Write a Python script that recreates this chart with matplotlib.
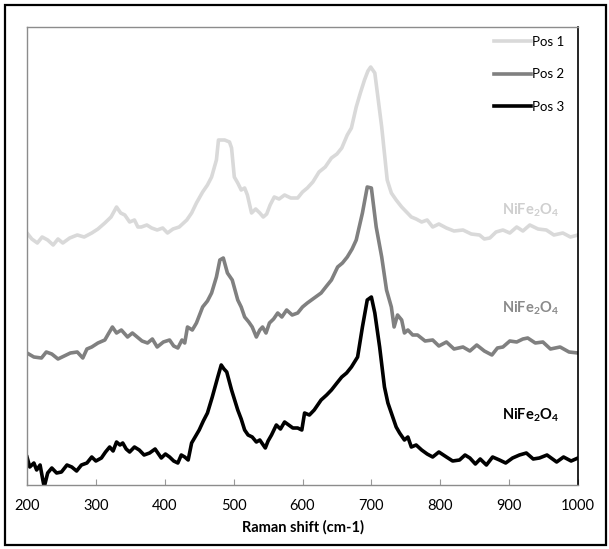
import matplotlib
matplotlib.use("Agg")
import matplotlib.pyplot as plt
from matplotlib.patches import Rectangle

plt.rcParams['font.family'] = ['Lato', 'DejaVu Sans']
plt.rcParams['mathtext.fontset'] = 'custom'
plt.rcParams['mathtext.rm'] = 'Lato'
plt.rcParams['mathtext.bf'] = 'Lato:bold'

# Raman spectra (intensity in arbitrary, stacked units)
pos1_x = [200, 207, 215, 222, 230, 238, 245, 252, 262, 273, 283, 294, 303, 313, 322,
          330, 336, 342, 349, 356, 361, 366, 374, 381, 389, 397, 404, 412, 421,
          432, 439, 446, 455, 462, 468, 475, 478, 487, 494, 497, 501, 506, 511, 516,
          520, 526, 532, 538, 543, 548, 553, 559, 566, 574, 583, 593, 600, 607, 615,
          624, 633, 642, 650, 657, 665, 671, 678, 684, 690, 695, 699, 705, 710, 715,
          723, 729, 736, 744, 751, 758, 765, 773, 781, 789, 798, 809, 820, 833, 845,
          857, 864, 872, 881, 891, 901, 911, 920, 930, 942, 954, 965, 978, 989, 1000]
pos1_y = [252, 246, 242, 248, 245, 240, 246, 242, 247, 250, 248, 252, 256, 262, 268,
          278, 272, 270, 263, 265, 258, 258, 260, 257, 255, 257, 252, 256, 258,
          265, 272, 282, 293, 300, 308, 325, 345, 345, 343, 337, 308, 302, 295, 297,
          290, 272, 276, 272, 268, 271, 280, 288, 286, 290, 287, 287, 293, 297, 303,
          313, 318, 327, 331, 337, 350, 357, 378, 392, 405, 414, 418, 412, 385, 358,
          305, 292, 285, 278, 273, 268, 266, 263, 265, 258, 261, 257, 254, 255, 251,
          250, 246, 247, 253, 255, 252, 258, 254, 260, 256, 255, 250, 252, 248, 250]

pos2_x = [200, 210, 221, 228, 236, 245, 254, 263, 273, 281, 287, 294, 303, 313, 318,
          324, 330, 337, 346, 353, 360, 367, 375, 382, 389, 398, 407, 413, 419, 425,
          429, 433, 440, 446, 455, 462, 468, 475, 480, 485, 491, 498, 506, 511, 516,
          522, 527, 533, 538, 542, 547, 552, 558, 564, 570, 577, 585, 593, 600, 607,
          617, 627, 635, 642, 651, 658, 665, 672, 678, 687, 694, 700, 707, 715, 722,
          729, 733, 738, 744, 748, 753, 760, 767, 778, 789, 798, 809, 820, 833, 843,
          853, 864, 875, 883, 891, 901, 911, 920, 927, 938, 949, 960, 974, 987, 1000]
pos2_y = [132, 128, 127, 133, 131, 126, 129, 132, 133, 127, 136, 138, 142, 145, 151,
          158, 152, 155, 148, 152, 148, 144, 142, 146, 138, 143, 145, 139, 137, 145,
          142, 158, 155, 162, 178, 184, 192, 208, 225, 227, 212, 205, 185, 178, 168,
          163, 158, 148, 155, 158, 152, 162, 166, 172, 168, 175, 170, 172, 178, 182,
          187, 192, 199, 205, 218, 222, 228, 236, 245, 272, 298, 297, 258, 228, 195,
          178, 158, 170, 165, 152, 155, 150, 150, 144, 145, 139, 143, 136, 138, 134,
          140, 134, 130, 137, 138, 144, 143, 146, 147, 142, 143, 136, 138, 133, 132]

pos3_x = [200, 204, 210, 214, 219, 223, 225, 230, 236, 243, 250, 258, 265, 272, 279,
          287, 294, 300, 308, 314, 320, 325, 330, 335, 339, 344, 349, 356, 363, 370,
          378, 386, 395, 401, 407, 413, 419, 424, 429, 434, 439, 450, 456, 462, 469,
          477, 482, 486, 490, 497, 506, 511, 516, 521, 527, 533, 538, 546, 550, 555,
          562, 568, 574, 580, 586, 593, 599, 603, 610, 617, 622, 627, 635, 642, 650,
          657, 664, 671, 680, 687, 694, 700, 705, 712, 719, 724, 729, 736, 741, 748,
          753, 758, 765, 773, 781, 789, 798, 809, 818, 828, 836, 843, 851, 858, 867,
          876, 886, 895, 905, 915, 925, 935, 944, 955, 969, 979, 990, 1000]
pos3_y = [28, 18, 22, 15, 20, 5, -2, 12, 17, 12, 13, 20, 18, 14, 20,
          22, 28, 24, 27, 33, 38, 34, 43, 40, 42, 36, 33, 38, 35, 30,
          32, 36, 27, 31, 28, 24, 22, 30, 28, 25, 42, 55, 64, 72, 88,
          108, 120, 116, 113, 95, 75, 66, 55, 50, 48, 43, 45, 37, 44, 50,
          60, 56, 63, 60, 57, 57, 55, 72, 70, 75, 80, 85, 90, 95, 102,
          108, 112, 118, 128, 158, 185, 188, 172, 138, 98, 82, 72, 58, 52, 45,
          48, 38, 40, 35, 31, 28, 33, 28, 24, 25, 30, 27, 21, 26, 20,
          28, 25, 22, 27, 30, 32, 26, 27, 30, 23, 28, 24, 27]

labels = ["Pos 1", "Pos 2", "Pos 3"]
colors = ["#d9d9d9", "#808080", "#000000"]
label_y = [275, 177, 70]
label_colors = ["#cfcfcf", "#8a8a8a", "#000000"]

fig = plt.figure(figsize=(6.09, 5.49), dpi=100)
ax = fig.add_axes([27 / 609, 1 - 485 / 549, 551 / 609, 458 / 549])

for xs, ys, c, lab in zip([pos1_x, pos2_x, pos3_x], [pos1_y, pos2_y, pos3_y], colors, labels):
    ax.plot(xs, ys, color=c, lw=2.6, label=lab)

for y, c in zip(label_y, label_colors):
    ax.text(889, y, r'$\mathbf{NiFe_2O_4}$', color=c, fontsize=10.5, ha='left', va='center')

ax.set_xlim(200, 1000)
ax.set_ylim(0, 458)
ax.set_xticks(range(200, 1001, 100))
ax.set_yticks([])
ax.tick_params(axis='x', direction='in', length=4, color='#999999', labelsize=10.5, pad=10)
ax.set_xlabel("Raman shift (cm-1)", fontsize=10.5, fontweight='bold', labelpad=5)
for s in ['left', 'top', 'bottom']:
    ax.spines[s].set_color('#8c8c8c')
    ax.spines[s].set_linewidth(1.0)
ax.spines['right'].set_color('black')
ax.spines['right'].set_linewidth(1.2)

ax.legend(loc='upper left', bbox_to_anchor=(494 / 609, 1 - 36 / 549), bbox_transform=fig.transFigure,
          frameon=False, fontsize=9.5, handlelength=2.8, handletextpad=0.1,
          labelspacing=1.55, borderpad=0, borderaxespad=0)

fig.patches.append(Rectangle((5 / 609, 4 / 549), 601 / 609, 540 / 549, transform=fig.transFigure,
                             fill=False, edgecolor='black', lw=1.6))

fig.savefig("out.png", dpi=100)
